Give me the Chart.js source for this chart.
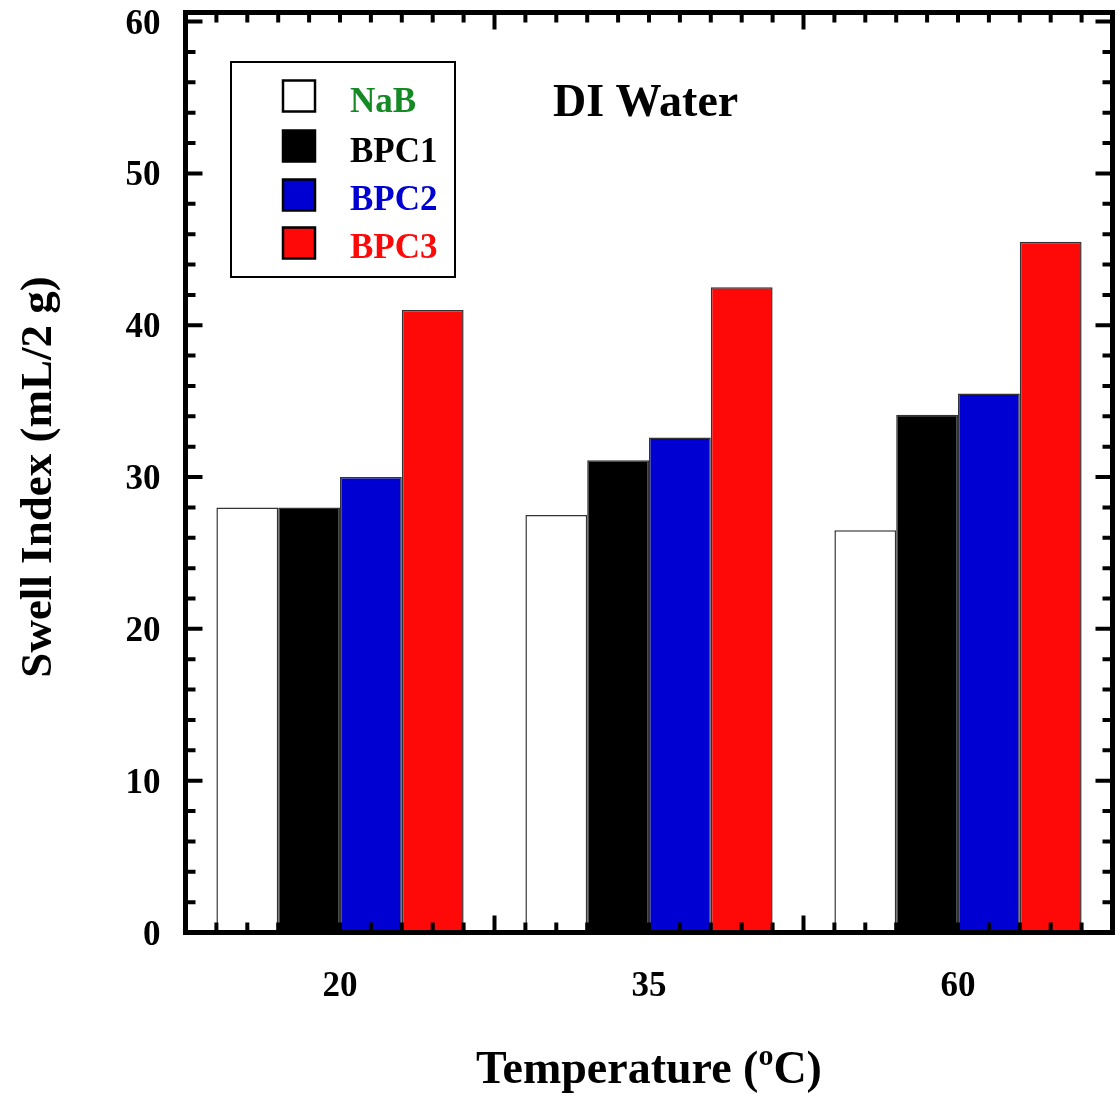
<!DOCTYPE html>
<html>
<head>
<meta charset="utf-8">
<script src="https://cdn.jsdelivr.net/npm/chart.js@4/dist/chart.umd.min.js"></script>
<style>
html,body{margin:0;padding:0;background:#fff;}
#c{display:block;}
</style>
</head>
<body>
<canvas id="c" width="1119" height="1098"></canvas>
<script>
// ---- data ----
const categories = ['20', '35', '60'];
const seriesNames = ['NaB', 'BPC1', 'BPC2', 'BPC3'];
const nabValues = [28.0, 27.5, 26.5];
const bpc1Values = [28.0, 31.1, 34.1];
const bpc2Values = [30.0, 32.6, 35.5];
const bpc3Values = [41.0, 42.5, 45.5];
const yTickValues = [0, 10, 20, 30, 40, 50, 60];
const plotTitle = 'DI Water';
const yTitle = 'Swell Index (mL/2 g)';
const xTitleMain = 'Temperature (';
const xTitleSup = 'o';
const xTitleEnd = 'C)';

const fillColors = ['#ffffff', '#000000', '#0000d2', '#ff0808'];
const legendTextColors = ['#148a24', '#000000', '#0000d2', '#ff0808'];
const FONT = "'Liberation Serif', 'Times New Roman', serif";

Chart.defaults.font.family = FONT;
Chart.defaults.color = '#000';

const allSeries = [nabValues, bpc1Values, bpc2Values, bpc3Values];

const decorPlugin = {
  id: 'decor',
  afterDraw(chart) {
    const ctx = chart.ctx;
    const a = chart.chartArea;
    const xs = chart.scales.x, ys = chart.scales.y;
    ctx.save();
    // ticks
    ctx.strokeStyle = '#000';
    ctx.lineWidth = 4;
    ctx.lineCap = 'butt';
    const majorLen = 17, minorLen = 10;
    // y ticks (left & right)
    for (let v = 0; v <= 60; v += 2) {
      const y = ys.getPixelForValue(v);
      const len = (v % 10 === 0) ? majorLen : minorLen;
      ctx.beginPath();
      ctx.moveTo(a.left, y); ctx.lineTo(a.left + len, y);
      ctx.moveTo(a.right, y); ctx.lineTo(a.right - len, y);
      ctx.stroke();
    }
    // x ticks: majors at category boundaries, 10 minors per category
    const n = categories.length;
    const step = (xs.getPixelForValue(1) - xs.getPixelForValue(0));
    for (let i = 0; i < n; i++) {
      const start = xs.getPixelForValue(i) - step / 2;
      for (let k = 0; k <= 10; k++) {
        if (k === 10 && i < n - 1) continue;
        const x = start + k * step / 10;
        const len = (k % 10 === 0) ? majorLen : minorLen;
        ctx.beginPath();
        ctx.moveTo(x, a.bottom); ctx.lineTo(x, a.bottom - len);
        ctx.moveTo(x, a.top); ctx.lineTo(x, a.top + len);
        ctx.stroke();
      }
    }
    // frame
    ctx.lineWidth = 5;
    ctx.lineJoin = 'miter';
    ctx.strokeRect(a.left, a.top, a.right - a.left, a.bottom - a.top);

    // legend box
    ctx.lineWidth = 2;
    ctx.strokeRect(231, 62, 224, 215);
    const sw = [96, 146, 195, 243];
    const base = [112, 162, 210, 258];
    ctx.font = 'bold 35px ' + FONT;
    ctx.textAlign = 'left';
    ctx.textBaseline = 'alphabetic';
    chart.data.datasets.forEach((ds, i) => {
      ctx.fillStyle = ds.backgroundColor;
      ctx.fillRect(283, sw[i] - 15.5, 32, 31);
      ctx.lineWidth = 2.5;
      ctx.strokeStyle = '#000';
      ctx.strokeRect(283, sw[i] - 15.5, 32, 31);
      ctx.fillStyle = legendTextColors[i];
      ctx.fillText(ds.label, 350, base[i]);
    });

    // plot title
    ctx.fillStyle = '#000';
    ctx.font = 'bold 46px ' + FONT;
    ctx.fillText(plotTitle, 553, 116);

    // x title with superscript
    const fMain = 'bold 46px ' + FONT, fSup = 'bold 30px ' + FONT;
    ctx.font = fMain; const w1 = ctx.measureText(xTitleMain).width;
    const w3 = ctx.measureText(xTitleEnd).width;
    ctx.font = fSup; const w2 = ctx.measureText(xTitleSup).width;
    const total = w1 + w2 + w3;
    let x0 = (a.left + a.right) / 2 - total / 2;
    const yb = 1083;
    ctx.font = fMain; ctx.fillText(xTitleMain, x0, yb);
    ctx.font = fSup; ctx.fillText(xTitleSup, x0 + w1, yb - 18);
    ctx.font = fMain; ctx.fillText(xTitleEnd, x0 + w1 + w2, yb);

    // y title
    ctx.save();
    ctx.translate(51, 477);
    ctx.rotate(-Math.PI / 2);
    ctx.font = 'bold 45px ' + FONT;
    ctx.textAlign = 'center';
    ctx.fillText(yTitle, 0, 0);
    ctx.restore();

    ctx.restore();
  }
};

new Chart(document.getElementById('c'), {
  type: 'bar',
  data: {
    labels: categories,
    datasets: seriesNames.map((name, i) => ({
      label: name,
      data: allSeries[i],
      backgroundColor: fillColors[i],
      borderColor: '#333333',
      borderWidth: 1.5,
      categoryPercentage: 0.8,
      barPercentage: 1.0
    }))
  },
  options: {
    responsive: false,
    animation: false,
    devicePixelRatio: 1,
    layout: { padding: { top: 12.5, right: 6.5, left: 0, bottom: 0 } },
    plugins: { legend: { display: false }, tooltip: { enabled: false }, title: { display: false } },
    scales: {
      x: {
        type: 'category',
        grid: { display: false, drawTicks: false },
        border: { display: false },
        ticks: { font: { size: 35, weight: 'bold' }, color: '#000', padding: 33, maxRotation: 0 },
        afterFit: s => { s.height = 165.5; s.paddingLeft = 0; s.paddingRight = 0; }
      },
      y: {
        min: 0,
        max: 60.6,
        grid: { display: false, drawTicks: false },
        border: { display: false },
        afterBuildTicks: s => { s.ticks = yTickValues.map(v => ({ value: v })); },
        ticks: { font: { size: 35, weight: 'bold' }, color: '#000', padding: 25, labelOffset: 3 },
        afterFit: s => { s.width = 185.5; s.paddingTop = 0; s.paddingBottom = 0; }
      }
    }
  },
  plugins: [decorPlugin]
});
</script>
</body>
</html>
